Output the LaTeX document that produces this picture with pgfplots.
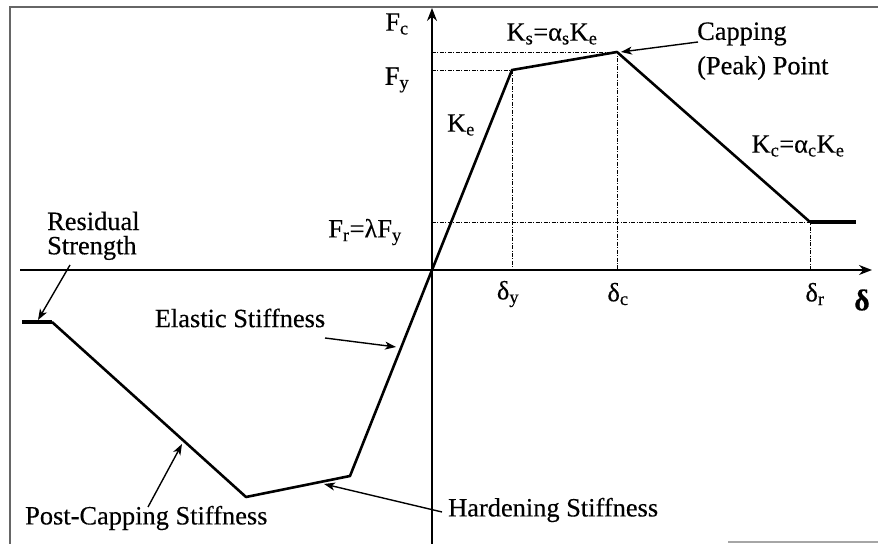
\documentclass[border=0pt]{standalone}
\usepackage{fontspec}
\setmainfont{Liberation Serif}[FakeBold=0.35]
\usepackage{pgfplots}
\pgfplotsset{compat=1.18}
\usetikzlibrary{arrows.meta}

\newcommand{\sub}[1]{\textsubscript{#1}}
\tikzset{lab/.style={font=\fontsize{26.5}{31}\selectfont, inner sep=0pt},
         ann/.style={black, line width=1.4pt, -{Stealth[length=11pt,width=8pt,inset=3pt]}},
         refl/.style={black, line width=0.9pt, dash pattern=on 4pt off 1.5pt on 1pt off 1.5pt}}

\begin{document}
\begin{tikzpicture}
\begin{axis}[
  width=878bp, height=544bp, scale only axis,
  xmin=-432, xmax=446, ymin=-274, ymax=270,
  axis lines=none, clip=false,
]
% frame
\addplot[gray!80!black, line width=1.8pt] coordinates {(-422,-274) (-422,263) (446,263)};
\addplot[gray!70, line width=1.2pt] coordinates {(296,-272) (446,-272)};

% coordinate axes
\addplot[black, line width=1.6pt, -{Stealth[length=13pt,width=10pt]}] coordinates {(-412,0) (440,0)};
\addplot[black, line width=1.6pt, -{Stealth[length=13pt,width=10pt]}] coordinates {(0,-274) (0,262)};

% reference lines
\addplot[refl] coordinates {(0,200) (80,200) (80,0)};
\addplot[refl] coordinates {(0,218) (185,218) (185,0)};
\addplot[refl] coordinates {(0,48) (378,48) (378,0)};

% backbone curve
\addplot[black, line width=2.6pt, line join=round] coordinates {
  (-380,-52) (-186,-227) (-82,-206) (0,0) (80,200) (185,218) (378,48)};
\addplot[black, line width=4.2pt] coordinates {(378,48) (424,48)};
\addplot[black, line width=3.2pt] coordinates {(-410,-52) (-380,-52)};

% annotation arrows
\addplot[ann] coordinates {(266,228) (189,218)};
\addplot[ann] coordinates {(-362,5) (-394,-50)};
\addplot[ann] coordinates {(-107,-68) (-36,-77)};
\addplot[ann] coordinates {(-284,-237) (-250,-174)};
\addplot[ann] coordinates {(10,-242) (-108,-214)};

% labels
\node[lab] at (axis cs:-35,246) {F\sub{c}};
\node[lab] at (axis cs:-35,190) {F\sub{y}};
\node[lab] at (axis cs:120,236) {K\sub{s}=α\sub{s}K\sub{e}};
\node[lab, anchor=west] at (axis cs:265,236) {Capping};
\node[lab, anchor=west] at (axis cs:265,202) {(Peak) Point};
\node[lab] at (axis cs:29,145) {K\sub{e}};
\node[lab] at (axis cs:366,124) {K\sub{c}=α\sub{c}K\sub{e}};
\node[lab] at (axis cs:-67,38) {F\sub{r}=λF\sub{y}};
\node[lab] at (axis cs:76,-24) {δ\sub{y}};
\node[lab] at (axis cs:186,-24) {δ\sub{c}};
\node[lab] at (axis cs:383,-24) {δ\sub{r}};
\node[lab, font=\fontsize{30}{32}\selectfont\bfseries] at (axis cs:430,-30) {δ};
\node[lab, anchor=west] at (axis cs:-385,49) {Residual};
\node[lab, anchor=west] at (axis cs:-385,22) {Strength};
\node[lab] at (axis cs:-192,-48) {Elastic Stiffness};
\node[lab, anchor=west] at (axis cs:-407,-248) {Post-Capping Stiffness};
\node[lab, anchor=west] at (axis cs:16,-240) {Hardening Stiffness};
\end{axis}
\pgfresetboundingbox
\path[use as bounding box] (current axis.south west) rectangle (current axis.north east);
\end{tikzpicture}
\end{document}
